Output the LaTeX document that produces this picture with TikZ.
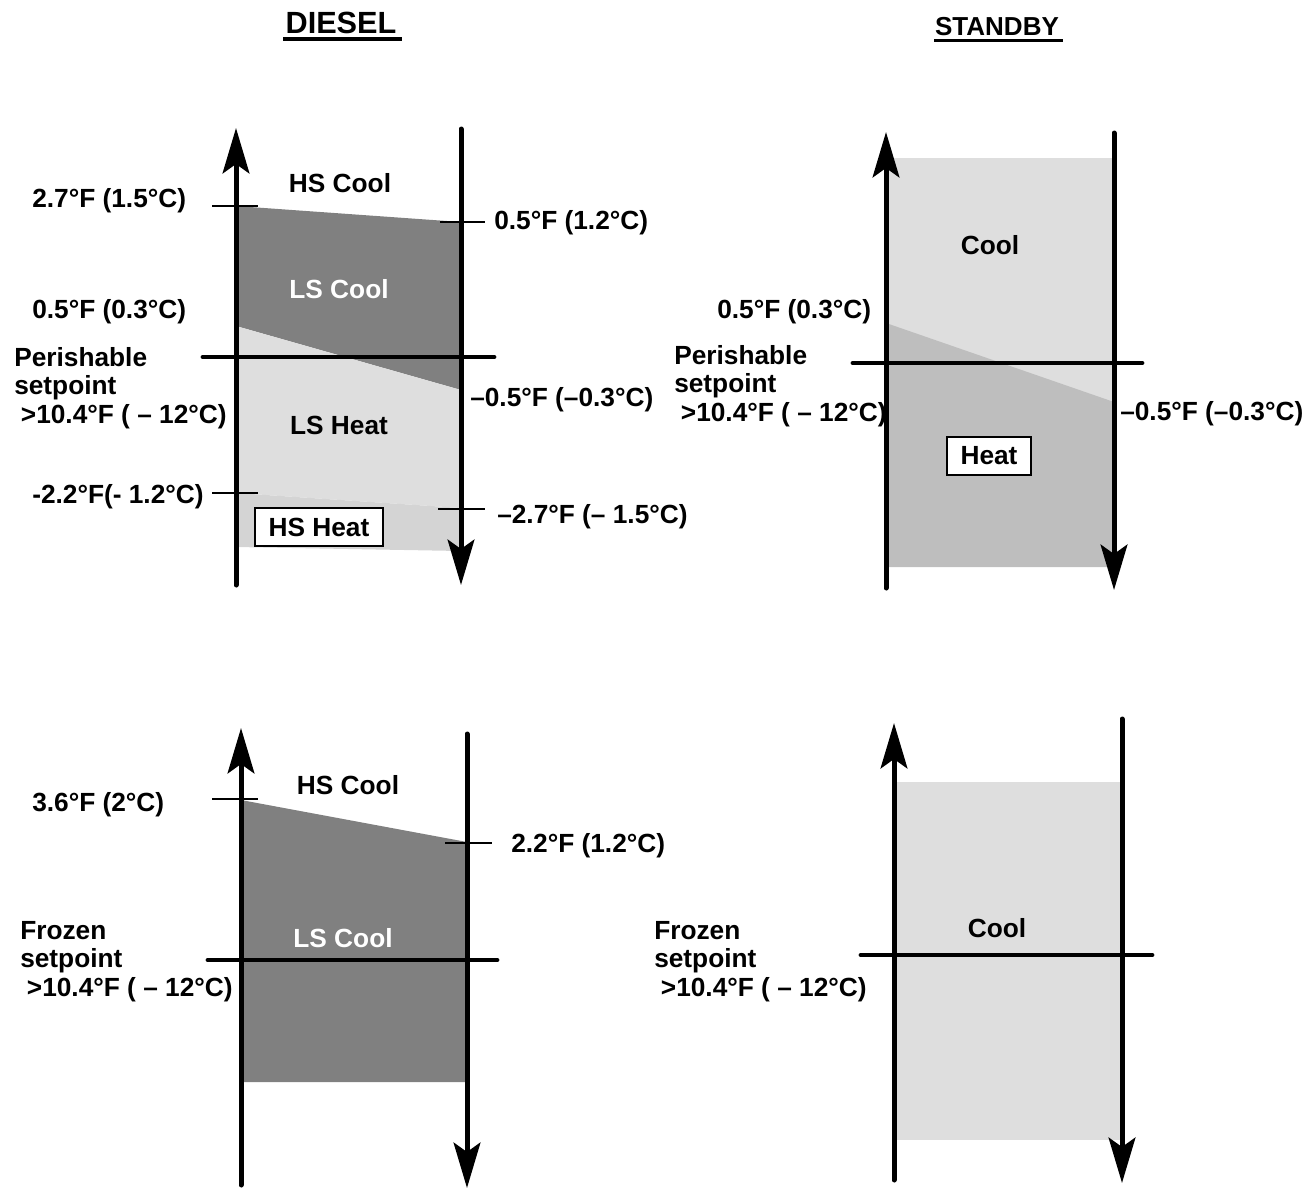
\documentclass[tikz,border=0pt]{standalone}
\usepackage{fontspec}
\setmainfont{Liberation Sans}
\usetikzlibrary{arrows.meta}

\definecolor{lscool}{HTML}{808080}
\definecolor{lsheat}{HTML}{DEDEDE}
\definecolor{hsheat}{HTML}{D4D4D4}
\definecolor{sbheat}{HTML}{BEBEBE}

\begin{document}
\begin{tikzpicture}[x=0.75pt,y=-0.75pt,
  axis/.style={line width=3.75pt, line cap=round},
  upaxis/.style={axis, -{Stealth[length=34pt,width=20pt,inset=7pt]}},
  downaxis/.style={axis, -{Stealth[length=34pt,width=20pt,inset=7pt]}},
  setline/.style={line width=3.6pt, line cap=round},
  tickline/.style={line width=1.5pt},
  lbl/.style={font=\bfseries\fontsize{19.7}{21.4}\selectfont, inner sep=0pt},
  multilbl/.style={lbl, align=left, anchor=north west},
  modebox/.style={lbl, draw, fill=white, line width=1.5pt, minimum height=28.5pt},
  title/.style={font=\bfseries, inner sep=0pt, anchor=base},
]
\path[use as bounding box] (0,0) rectangle (1313,1190);

% ---------- titles ----------
\node[title, font=\bfseries\fontsize{23}{25}\selectfont] (tdiesel) at (341,33) {DIESEL};
\draw[line width=2.6pt] (283,39) -- (402,39);
\node[title, font=\bfseries\fontsize{19.5}{21}\selectfont] (tstandby) at (997,35) {STANDBY};
\draw[line width=2.3pt] (934,40.5) -- (1063,40.5);

% ---------- diesel, perishable ----------
\fill[lscool] (236,206) -- (461,222) -- (461,390) -- (236,326) -- cycle;
\fill[lsheat] (236,326) -- (461,390) -- (461,508) -- (236,493) -- cycle;
\fill[hsheat] (236,493) -- (461,508) -- (461,551) -- (236,547) -- cycle;

\coordinate (a1b) at (236,585);
\coordinate (a1t) at (236,128);
\coordinate (b1t) at (461,129);
\coordinate (b1b) at (461,585);
\draw[upaxis] (a1b) -- (a1t);
\draw[downaxis] (b1t) -- (b1b);

\coordinate (s1l) at (203,357);
\coordinate (s1r) at (494,357);
\draw[setline] (s1l) -- (s1r);

\draw[tickline] (212,206) -- (258,206);
\draw[tickline] (440,222) -- (485,222);
\draw[tickline] (212,493) -- (258,493);
\draw[tickline] (438,509) -- (485,509);

\node[lbl] (hscool1) at (340,183) {HS Cool};
\node[lbl, text=white] (lscool1) at (339,289) {LS Cool};
\node[lbl] (lsheat1) at (339,425) {LS Heat};
\node[modebox, minimum width=96pt] (hsheat1) at (319,527) {HS Heat};

\node[lbl, anchor=base west] (l1a) at (32,207) {2.7°F (1.5°C)};
\node[lbl, anchor=base west] (l1b) at (494,229) {0.5°F (1.2°C)};
\node[lbl, anchor=base west] (l1c) at (32,318) {0.5°F (0.3°C)};
\node[lbl, anchor=base west] (l1d) at (470,406) {–0.5°F (–0.3°C)};
\node[lbl, anchor=base west] (l1e) at (32,503) {-2.2°F(- 1.2°C)};
\node[lbl, anchor=base west] (l1f) at (497,523) {–2.7°F (– 1.5°C)};
\node[multilbl] (sp1) at (14,347) {Perishable\\setpoint\\\hspace*{5pt}>10.4°F ( – 12°C)};

% ---------- standby, perishable ----------
\fill[lsheat] (886,158) rectangle (1114,567);
\fill[sbheat] (886,323) -- (1114,402) -- (1114,567) -- (886,567) -- cycle;

\coordinate (a2b) at (886,588);
\coordinate (a2t) at (886,132);
\coordinate (b2t) at (1114,133);
\coordinate (b2b) at (1114,590);
\draw[upaxis] (a2b) -- (a2t);
\draw[downaxis] (b2t) -- (b2b);

\coordinate (s2l) at (853,363);
\coordinate (s2r) at (1142,363);
\draw[setline] (s2l) -- (s2r);

\node[lbl] (cool2) at (990,245) {Cool};
\node[modebox, minimum width=63pt] (heat2) at (989,456) {Heat};
\node[lbl, anchor=base west] (l2a) at (717,318) {0.5°F (0.3°C)};
\node[lbl, anchor=base west] (l2b) at (1120,420) {–0.5°F (–0.3°C)};
\node[multilbl] (sp2) at (674,345) {Perishable\\setpoint\\\hspace*{5pt}>10.4°F ( – 12°C)};

% ---------- diesel, frozen ----------
\fill[lscool] (241,800) -- (467,842) -- (467,1082) -- (241,1082) -- cycle;

\coordinate (a3b) at (241,1185);
\coordinate (a3t) at (241,728);
\coordinate (b3t) at (467,734);
\coordinate (b3b) at (467,1188);
\draw[upaxis] (a3b) -- (a3t);
\draw[downaxis] (b3t) -- (b3b);

\coordinate (s3l) at (208,960);
\coordinate (s3r) at (497,960);
\draw[setline] (s3l) -- (s3r);

\draw[tickline] (212,799) -- (258,799);
\draw[tickline] (445,843) -- (492,843);

\node[lbl] (hscool3) at (348,785) {HS Cool};
\node[lbl, text=white] (lscool3) at (343,938) {LS Cool};
\node[lbl, anchor=base west] (l3a) at (32,811) {3.6°F (2°C)};
\node[lbl, anchor=base west] (l3b) at (511,852) {2.2°F (1.2°C)};
\node[multilbl] (sp3) at (20,921) {Frozen\\setpoint\\\hspace*{5pt}>10.4°F ( – 12°C)};

% ---------- standby, frozen ----------
\fill[lsheat] (894,782) rectangle (1122,1140);

\coordinate (a4b) at (894,1180);
\coordinate (a4t) at (894,723);
\coordinate (b4t) at (1122,719);
\coordinate (b4b) at (1122,1183);
\draw[upaxis] (a4b) -- (a4t);
\draw[downaxis] (b4t) -- (b4b);

\coordinate (s4l) at (861,955);
\coordinate (s4r) at (1152,955);
\draw[setline] (s4l) -- (s4r);

\node[lbl] (cool4) at (997,928) {Cool};
\node[multilbl] (sp4) at (654,921) {Frozen\\setpoint\\\hspace*{5pt}>10.4°F ( – 12°C)};
\end{tikzpicture}
\end{document}
